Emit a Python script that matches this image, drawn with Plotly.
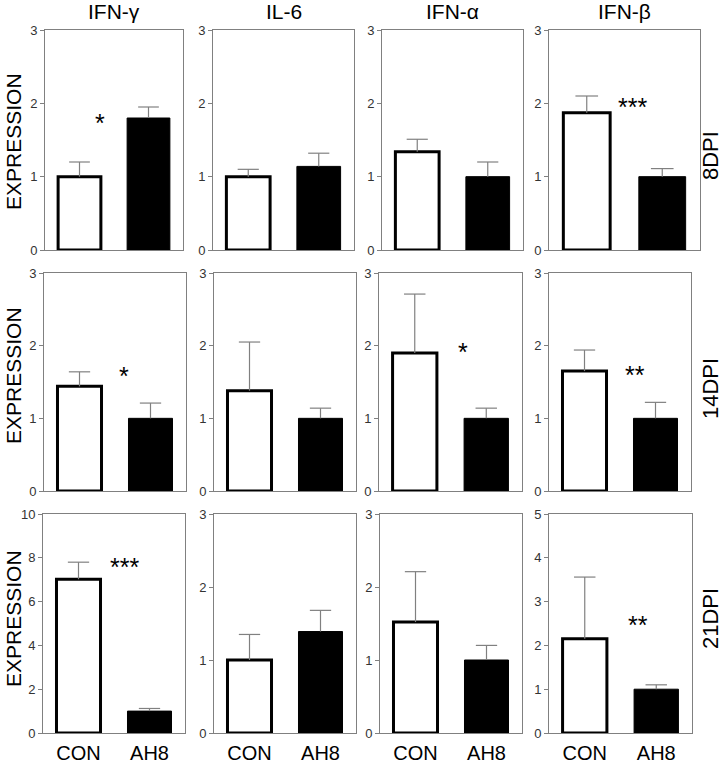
import plotly.graph_objects as go

# ---------------- data ----------------
genes = ["IFN-γ", "IL-6", "IFN-α", "IFN-β"]
days = ["8DPI", "14DPI", "21DPI"]
groups = ["CON", "AH8"]

con_mean = [[1.00, 1.00, 1.34, 1.87],
            [1.44, 1.38, 1.90, 1.65],
            [7.02, 1.00, 1.52, 2.15]]
con_upper = [[1.20, 1.10, 1.51, 2.10],
             [1.64, 2.05, 2.71, 1.94],
             [7.80, 1.35, 2.21, 3.56]]
ah8_mean = [[1.80, 1.14, 1.00, 1.00],
            [1.00, 1.00, 1.00, 1.00],
            [1.00, 1.39, 1.00, 1.00]]
ah8_upper = [[1.95, 1.32, 1.20, 1.11],
             [1.21, 1.14, 1.14, 1.22],
             [1.12, 1.68, 1.20, 1.10]]
y_max = [[3, 3, 3, 3], [3, 3, 3, 3], [10, 3, 3, 5]]
y_step = [[1, 1, 1, 1], [1, 1, 1, 1], [2, 1, 1, 1]]
significance = [["*", "", "", "***"],
                ["*", "", "*", "**"],
                ["***", "", "", "**"]]

# ---------------- layout helpers ----------------
W, H = 724, 764
col_px = [[(45, 183), (213, 354), (382, 523), (549, 700)],
          [(44, 186), (214, 356), (379, 522), (549, 691)],
          [(43, 185), (214, 356), (380, 522), (549, 692)]]
row_px = [(30, 250), (273, 491), (514, 733)]
ylabel_center = [142, 376, 619]
day_center = [156, 389, 619]
sig_pos = {(0, 0): (0.30, 1.77), (0, 3): (0.60, 1.99),
           (1, 0): (0.62, 1.62), (1, 2): (0.67, 1.95), (1, 3): (0.71, 1.64),
           (2, 0): (0.65, 7.71), (2, 3): (0.75, 2.53)}

FONT = "Liberation Sans, Arial, sans-serif"
GRAY = "#808080"
CAP = 0.15
xpos = list(range(len(groups)))

fig = go.Figure()
annotations = []
for r in range(3):
    for c in range(4):
        k = r * 4 + c + 1
        xa = "x" if k == 1 else f"x{k}"
        ya = "y" if k == 1 else f"y{k}"
        means = [con_mean[r][c], ah8_mean[r][c]]
        uppers = [con_upper[r][c], ah8_upper[r][c]]
        fig.add_trace(go.Bar(
            x=xpos, y=means, xaxis=xa, yaxis=ya, width=0.62,
            marker=dict(color=["white", "black"],
                        line=dict(color="black", width=[3, 1])),
            showlegend=False, hoverinfo="skip"))
        ex, ey = [], []
        for i, (m, u) in enumerate(zip(means, uppers)):
            ex += [i, i, None, i - CAP, i + CAP, None]
            ey += [m, u, None, u, u, None]
        fig.add_trace(go.Scatter(
            x=ex, y=ey, xaxis=xa, yaxis=ya, mode="lines",
            line=dict(color=GRAY, width=1.2), showlegend=False,
            hoverinfo="skip"))
        x0, x1 = col_px[r][c]
        y0, y1 = row_px[r]
        fig.layout[("xaxis" if k == 1 else f"xaxis{k}")] = dict(
            domain=[x0 / W, x1 / W], anchor=ya, range=[-0.5, 1.5],
            tickvals=xpos, ticktext=groups, automargin=False,
            showline=True, mirror=True, linecolor=GRAY, linewidth=1,
            ticks="", showgrid=False, zeroline=False,
            showticklabels=(r == 2), ticklabelstandoff=2,
            tickfont=dict(family=FONT, size=20, color="black"))
        fig.layout[("yaxis" if k == 1 else f"yaxis{k}")] = dict(
            domain=[1 - y1 / H, 1 - y0 / H], anchor=xa, automargin=False,
            range=[0, y_max[r][c]], dtick=y_step[r][c], tick0=0,
            showline=True, mirror=True, linecolor=GRAY, linewidth=1,
            ticks="outside", ticklen=4, tickcolor=GRAY, tickwidth=1,
            showgrid=False, zeroline=False,
            tickfont=dict(family=FONT, size=13, color="#333333"))
        if significance[r][c]:
            sx, sy = sig_pos[(r, c)]
            annotations.append(dict(
                text=significance[r][c], x=sx, y=sy, xref=xa, yref=ya,
                showarrow=False, xanchor="center", yanchor="middle", yshift=-3,
                font=dict(family=FONT, size=25, color="black")))
        if r == 0:
            annotations.append(dict(
                text=genes[c], x=(x0 + x1) / 2 / W, y=1 - 11 / H,
                xref="paper", yref="paper", showarrow=False,
                xanchor="center", yanchor="middle",
                font=dict(family=FONT, size=21, color="black")))
    annotations.append(dict(
        text="EXPRESSION", x=13 / W, y=1 - ylabel_center[r] / H,
        xref="paper", yref="paper",
        showarrow=False, textangle=-90, xanchor="center", yanchor="middle",
        font=dict(family=FONT, size=21, color="black")))
    annotations.append(dict(
        text=days[r], x=710 / W, y=1 - day_center[r] / H,
        xref="paper", yref="paper",
        showarrow=False, textangle=-90, xanchor="center", yanchor="middle",
        font=dict(family=FONT, size=22, color="black")))

fig.update_layout(
    width=W, height=H,
    margin=dict(l=0, r=0, t=0, b=0, pad=0, autoexpand=False),
    paper_bgcolor="white", plot_bgcolor="white",
    annotations=annotations)

fig.write_html(
    "out.html",
    config={"displayModeBar": False, "staticPlot": True},
    post_script="document.body.style.margin='0';"
                "document.body.style.overflow='hidden';")
